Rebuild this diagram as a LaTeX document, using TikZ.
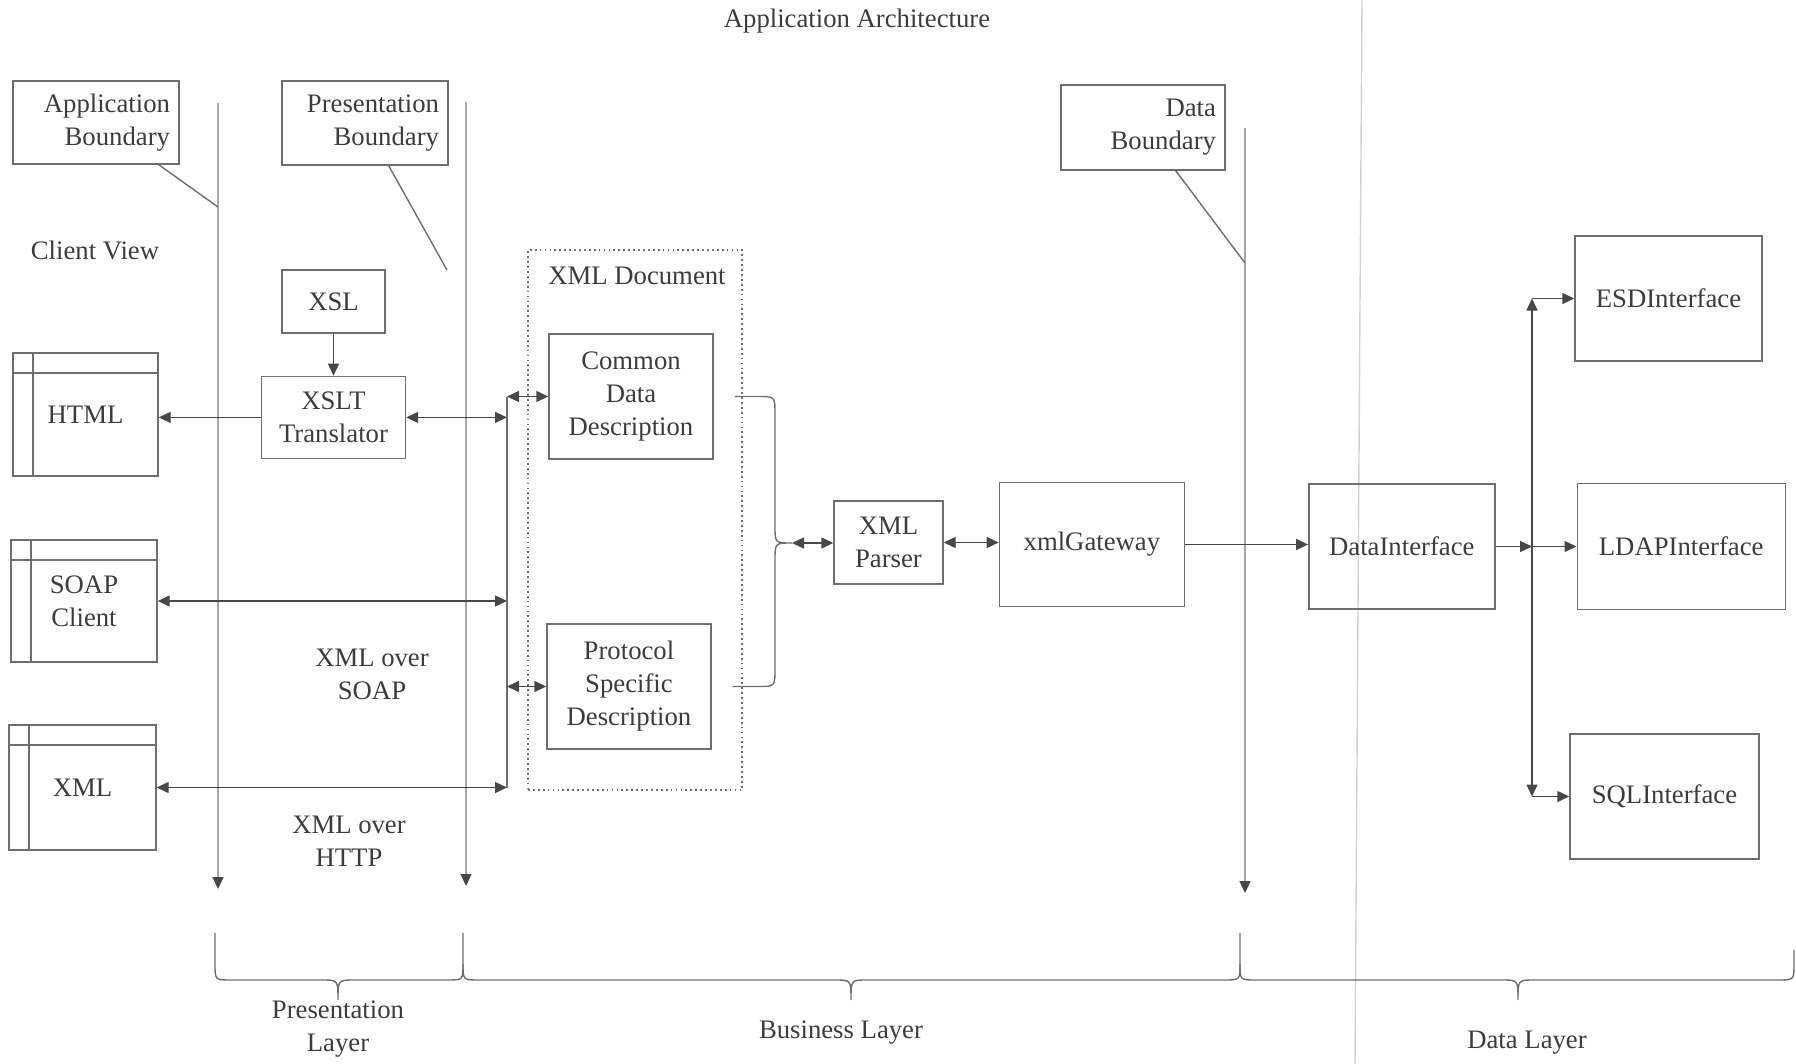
\documentclass[tikz,border=0pt]{standalone}
\usepackage{fontspec}
\setmainfont{Liberation Serif}
\usepackage{tikz}
\usetikzlibrary{arrows.meta,positioning}
\definecolor{ArchLine}{HTML}{6E6E6E}
\definecolor{ArchText}{HTML}{3C3C3C}
\definecolor{ArchArrow}{HTML}{474747}
\definecolor{ArchFaint}{HTML}{A6A6A6}
\definecolor{ArchScan}{HTML}{D2D2D2}

\begin{document}
\begin{tikzpicture}[
  x=0.1mm,y=-0.1mm,
  font=\fontsize{7.6}{9.4}\selectfont,
  text=ArchText,
  box/.style={rectangle,draw=ArchLine,line width=0.4pt,align=center,inner sep=0pt},
  window/.style={box,path picture={
      \draw[ArchLine,line width=0.4pt] ([xshift=2mm]path picture bounding box.north west) -- ([xshift=2mm]path picture bounding box.south west);
      \draw[ArchLine,line width=0.4pt] ([yshift=-2mm]path picture bounding box.north west) -- ([yshift=-2mm]path picture bounding box.north east);}},
  tag/.style={box,align=right,inner xsep=0.9mm,text width=#1},
  textlbl/.style={align=center,inner sep=0pt},
  line/.style={draw=ArchLine,line width=0.4pt},
  arrow/.style={-{Triangle[length=1.2mm,width=1.1mm]},draw=ArchArrow,line width=0.4pt},
  dbl/.style={{Triangle[length=1.2mm,width=1.1mm]}-{Triangle[length=1.2mm,width=1.1mm]},draw=ArchArrow,line width=0.4pt},
  bound/.style={-{Triangle[length=1.2mm,width=1.1mm,color=ArchArrow]},draw=ArchFaint,line width=0.4pt}
]
\useasboundingbox (0,0) rectangle (1796,1064);
\draw[draw=ArchScan,line width=0.4pt] (1362,0) -- (1355,1064);

\node[textlbl] (title) at (857,21) {Application Architecture};
\node[tag=14.8mm,minimum width=16.6mm,minimum height=8.3mm] (appbound) at (96,122.5) {Application\\Boundary};
\node[tag=14.8mm,minimum width=16.6mm,minimum height=8.4mm] (presbound) at (365,123) {Presentation\\Boundary};
\node[tag=14.6mm,minimum width=16.4mm,minimum height=8.5mm] (databound) at (1143,127.5) {Data\\Boundary};
\node[textlbl] (clientview) at (95,250) {Client View};

\node[box,minimum width=10.3mm,minimum height=6.3mm] (xsl) at (333.5,301.5) {XSL};
\node[box,minimum width=14.4mm,minimum height=8.2mm,below=4.2mm of xsl] (xslt) {XSLT\\Translator};
\node[window,minimum width=14.5mm,minimum height=12.3mm] (html) at (85.5,414.5) {HTML};
\node[window,minimum width=14.6mm,minimum height=12.2mm] (soapclient) at (84,601) {SOAP\\Client};
\node[window,minimum width=14.7mm,minimum height=12.5mm] (xmlclient) at (82.5,787.5) {XML};
\node[textlbl] (oversoap) at (372,674) {XML over\\SOAP};
\node[textlbl] (overhttp) at (349,841) {XML over\\HTTP};

\node[box,dash pattern=on 0.5pt off 0.9pt,minimum width=21.4mm,minimum height=54mm] (xmldoc) at (635,520) {};
\node[textlbl] (doclabel) at (637,276) {XML Document};
\node[box,minimum width=16.4mm,minimum height=12.5mm] (common) at (631,396.5) {Common\\Data\\Description};
\node[box,minimum width=16.4mm,minimum height=12.5mm] (protocol) at (629,686.5) {Protocol\\Specific\\Description};

\node[box,minimum width=10.9mm,minimum height=8.3mm] (parser) at (888.5,542.5) {XML\\Parser};
\node[box,minimum width=18.5mm,minimum height=12.4mm,right=5.5mm of parser,yshift=-0.2mm] (gateway) {xmlGateway};
\node[box,minimum width=18.6mm,minimum height=12.5mm,right=12.3mm of gateway,yshift=-0.2mm] (datainterface) {DataInterface};
\node[box,minimum width=20.8mm,minimum height=12.6mm,right=8.1mm of datainterface] (ldap) {LDAPInterface};
\node[box,minimum width=18.7mm,minimum height=12.5mm] (esd) at (1668.5,298.5) {ESDInterface};
\node[box,minimum width=18.9mm,minimum height=12.5mm] (sql) at (1664.5,796.5) {SQLInterface};

\coordinate (apptop) at (218,103);
\coordinate (append) at (218,889);
\coordinate (apphit) at (218,207);
\coordinate (prestop) at (466,102);
\coordinate (presend) at (466,886);
\coordinate (presleader) at (447,270);
\coordinate (datatop) at (1245,128);
\coordinate (dataend) at (1245,893);
\coordinate (datahit) at (1245,263);
\coordinate (busx) at (507,0);
\coordinate (rbusx) at (1532,0);
\coordinate (merge) at (792,543);

\draw[bound] (apptop) -- (append);
\draw[bound] (prestop) -- (presend);
\draw[bound] (datatop) -- (dataend);
\draw[line] ([xshift=-2.1mm]appbound.south east) -- (apphit);
\draw[line] ([xshift=-6mm]presbound.south east) -- (presleader);
\draw[line] ([xshift=-5mm]databound.south east) -- (datahit);

\draw[arrow] (xsl) -- (xslt);
\draw[arrow] (xslt.west) -- (xslt.west -| html.east);
\draw[dbl] (xslt.east) -- (xslt.east -| busx);
\draw[dbl] (soapclient.east) -- (soapclient.east -| busx);
\draw[dbl] (xmlclient.east) -- (xmlclient.east -| busx);
\draw[line] (common.west -| busx) -- (xmlclient.east -| busx);
\draw[dbl] (common.west -| busx) -- (common.west);
\draw[dbl] (protocol.west -| busx) -- (protocol.west);

\draw[line] ([xshift=2.1mm]common.east) -- (758,396.5) .. controls (775,396.5) .. (775,414) -- (775,526) .. controls (775,543) .. (merge) .. controls (775,543) .. (775,560) -- (775,669) .. controls (775,686.5) .. (758,686.5) -- ([xshift=2.1mm]protocol.east);
\draw[dbl] (merge) -- (merge -| parser.west);
\draw[dbl] (parser.east) -- (parser.east -| gateway.west);
\draw[arrow] (gateway.east) -- (gateway.east -| datainterface.west);
\draw[arrow] (datainterface.east) -- (datainterface.east -| rbusx);
\draw[arrow] (datainterface.east -| rbusx) -- (ldap.west);
\draw[dbl] (esd.west -| rbusx) -- (sql.west -| rbusx);
\draw[arrow] (esd.west -| rbusx) -- (esd.west);
\draw[arrow] (sql.west -| rbusx) -- (sql.west);

\draw[line] (215,933) -- (215,964) .. controls (215,980) .. (231,980) -- (322,980) .. controls (338,980) .. (338,1000) .. controls (338,980) .. (354,980) -- (447,980) .. controls (463,980) .. (463,964) -- (463,933);
\draw[line] (463,964) .. controls (463,980) .. (479,980) -- (835,980) .. controls (851,980) .. (851,1000) .. controls (851,980) .. (867,980) -- (1224,980) .. controls (1240,980) .. (1240,964) -- (1240,933);
\draw[line] (1240,964) .. controls (1240,980) .. (1256,980) -- (1502,980) .. controls (1518,980) .. (1518,1000) .. controls (1518,980) .. (1534,980) -- (1778,980) .. controls (1794,980) .. (1794,964) -- (1794,950);
\node[textlbl] (preslayer) at (338,1029) {Presentation\\Layer};
\node[textlbl] (buslayer) at (841,1033) {Business Layer};
\node[textlbl] (datalayer) at (1527,1043) {Data Layer};
\end{tikzpicture}
\end{document}
